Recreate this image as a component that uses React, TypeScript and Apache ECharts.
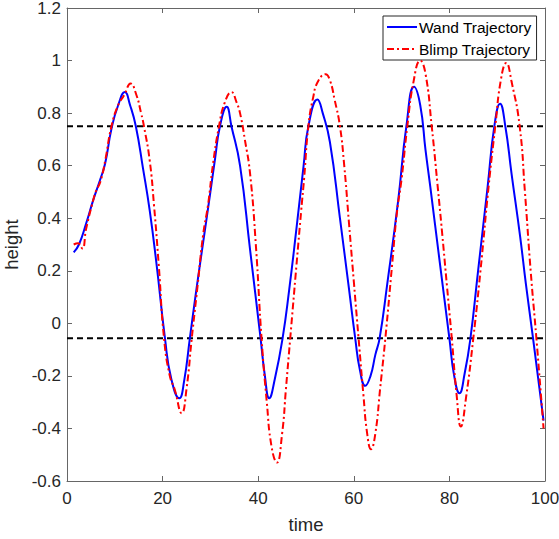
import React, { useEffect, useRef } from "react";
import * as echarts from "echarts";

const wandTime = [1.4, 2.5, 4.0, 5.5, 7.0, 8.0, 9.3, 10.7, 12.1, 13.2, 14.4, 15.9, 17.3, 18.7, 20.5, 21.8, 23.5, 24.5, 25.7, 27.0, 28.5, 30.0, 31.0, 32.0, 33.4, 34.4, 36.2, 38.3, 40.5, 41.4, 42.3, 43.5, 45.1, 46.5, 48.0, 49.5, 50.5, 52.4, 53.5, 55.0, 57.1, 59.0, 60.3, 61.3, 62.4, 63.5, 64.5, 65.4, 67.0, 69.3, 71.0, 72.6, 73.9, 75.0, 76.0, 78.0, 80.0, 81.0, 82.1, 83.2, 84.4, 86.0, 88.0, 89.4, 90.6, 91.7, 93.0, 94.8, 96.0, 97.5, 99.7];
const wandHeight = [0.27, 0.30, 0.38, 0.47, 0.55, 0.61, 0.74, 0.83, 0.88, 0.83, 0.75, 0.59, 0.43, 0.23, -0.057, -0.21, -0.285, -0.22, -0.057, 0.12, 0.31, 0.50, 0.63, 0.75, 0.824, 0.75, 0.60, 0.28, -0.057, -0.2, -0.285, -0.21, -0.057, 0.13, 0.36, 0.6, 0.75, 0.852, 0.8, 0.69, 0.40, 0.13, -0.057, -0.18, -0.238, -0.2, -0.12, -0.057, 0.15, 0.47, 0.75, 0.90, 0.83, 0.66, 0.52, 0.23, -0.057, -0.2, -0.266, -0.19, -0.057, 0.2, 0.52, 0.75, 0.836, 0.75, 0.57, 0.33, 0.15, -0.057, -0.37];

const blimpTime = [1.4, 2.3, 3.2, 4.0, 5.5, 6.0, 7.0, 8.0, 9.3, 10.7, 12.0, 13.3, 14.5, 15.5, 16.1, 17.3, 18.2, 19.2, 20.3, 21.5, 22.5, 24.0, 25.0, 26.1, 27.3, 28.5, 29.5, 30.5, 31.8, 33.0, 34.4, 35.5, 36.2, 37.2, 38.3, 39.5, 40.7, 41.8, 42.8, 43.9, 45.0, 45.8, 46.7, 48.0, 49.0, 49.6, 50.5, 51.5, 52.5, 54.1, 55.0, 56.0, 57.1, 58.0, 59.0, 60.0, 61.0, 62.0, 62.8, 63.6, 64.5, 65.5, 66.6, 68.0, 69.0, 70.0, 71.2, 72.5, 73.9, 75.0, 76.3, 77.5, 78.5, 79.5, 80.5, 81.5, 82.4, 83.5, 85.0, 86.5, 88.2, 89.6, 90.8, 91.9, 93.0, 94.7, 95.8, 97.0, 98.2, 99.7];
const blimpHeight = [0.30, 0.305, 0.285, 0.36, 0.47, 0.50, 0.54, 0.62, 0.75, 0.83, 0.87, 0.913, 0.87, 0.80, 0.75, 0.62, 0.45, 0.22, -0.057, -0.2, -0.25, -0.342, -0.25, -0.057, 0.14, 0.34, 0.45, 0.60, 0.75, 0.84, 0.88, 0.84, 0.80, 0.70, 0.57, 0.30, -0.057, -0.30, -0.47, -0.53, -0.42, -0.25, -0.057, 0.22, 0.43, 0.55, 0.75, 0.86, 0.92, 0.948, 0.925, 0.85, 0.75, 0.60, 0.38, 0.16, -0.057, -0.27, -0.42, -0.479, -0.42, -0.25, -0.057, 0.22, 0.418, 0.55, 0.75, 0.92, 1.0, 0.95, 0.75, 0.53, 0.34, 0.14, -0.057, -0.27, -0.393, -0.28, -0.057, 0.2, 0.52, 0.75, 0.93, 0.991, 0.92, 0.75, 0.5, 0.2, -0.057, -0.40];

const thresholdUpper = 0.75;
const thresholdLower = -0.057;
const timeRange = [0, 100];

const xTicks = { min: 0, max: 100, interval: 20 };
const yTicks = { min: -0.6, max: 1.2, interval: 0.2 };

const FONT = "'Liberation Sans', Arial, Helvetica, sans-serif";
const AXIS_COLOR = "#666666";
const TEXT_COLOR = "#262626";

export default function App() {
  const ref = useRef<HTMLDivElement>(null);
  useEffect(() => {
    if (!ref.current) return;
    const chart = echarts.init(ref.current, undefined, { renderer: "svg" });
    const zip = (xs: number[], ys: number[]) => xs.map((x, i) => [x, ys[i]]);
    const baseX = {
      type: "value" as const,
      min: xTicks.min,
      max: xTicks.max,
      interval: xTicks.interval,
      splitLine: { show: false },
      axisLine: { show: true, onZero: false, lineStyle: { color: AXIS_COLOR, width: 1 } },
      axisTick: { show: true, inside: true, length: 5, lineStyle: { color: AXIS_COLOR } },
    };
    const baseY = {
      type: "value" as const,
      min: yTicks.min,
      max: yTicks.max,
      interval: yTicks.interval,
      splitLine: { show: false },
      axisLine: { show: true, onZero: false, lineStyle: { color: AXIS_COLOR, width: 1 } },
      axisTick: { show: true, inside: true, length: 5, lineStyle: { color: AXIS_COLOR } },
    };
    chart.setOption({
      animation: false,
      backgroundColor: "#ffffff",
      textStyle: { fontFamily: FONT },
      grid: { left: 67, right: 14, top: 8, bottom: 58, containLabel: false, outerBoundsMode: "none" },
      legend: {
        data: ["Wand Trajectory", "Blimp Trajectory"],
        orient: "vertical",
        left: 383,
        top: 16,
        padding: [3, 5, 3, 3],
        itemGap: 6,
        itemWidth: 30,
        itemHeight: 14,
        itemStyle: { opacity: 0 },
        backgroundColor: "#ffffff",
        borderColor: "#262626",
        borderWidth: 1,
        textStyle: { fontSize: 15.5, color: "#000000", fontFamily: FONT, lineHeight: 15, padding: [0, 0, 0, -3] },
      },
      xAxis: [
        {
          ...baseX,
          position: "bottom",
          name: "time",
          nameLocation: "middle",
          nameGap: 34,
          nameTextStyle: { fontSize: 18.5, color: TEXT_COLOR, fontFamily: FONT },
          axisLabel: { fontSize: 17, color: TEXT_COLOR, margin: 9, fontFamily: FONT },
        },
        { ...baseX, position: "top", axisLabel: { show: false } },
      ],
      yAxis: [
        {
          ...baseY,
          position: "left",
          name: "height",
          nameLocation: "middle",
          nameGap: 40,
          nameTextStyle: { fontSize: 18.5, color: TEXT_COLOR, fontFamily: FONT },
          axisLabel: {
            fontSize: 17,
            color: TEXT_COLOR,
            margin: 6,
            fontFamily: FONT,
            formatter: (v: number) => String(Math.round(v * 10) / 10),
          },
        },
        { ...baseY, position: "right", axisLabel: { show: false } },
      ],
      series: [
        {
          name: "upper",
          type: "line",
          data: zip(timeRange, [thresholdUpper, thresholdUpper]),
          symbol: "none",
          silent: true,
          lineStyle: { color: "#000000", width: 2, type: [6, 4] },
          z: 1,
        },
        {
          name: "lower",
          type: "line",
          data: zip(timeRange, [thresholdLower, thresholdLower]),
          symbol: "none",
          silent: true,
          lineStyle: { color: "#000000", width: 2, type: [6, 4] },
          z: 1,
        },
        {
          name: "Wand Trajectory",
          type: "line",
          data: zip(wandTime, wandHeight),
          symbol: "none",
          smooth: 0.5,
          lineStyle: { color: "#0000ff", width: 2 },
          itemStyle: { color: "#0000ff" },
          z: 3,
        },
        {
          name: "Blimp Trajectory",
          type: "line",
          data: zip(blimpTime, blimpHeight),
          symbol: "none",
          smooth: 0.5,
          lineStyle: { color: "#ff0000", width: 2, type: [7, 3, 2, 3] },
          itemStyle: { color: "#ff0000" },
          z: 4,
        },
      ],
    });
    return () => chart.dispose();
  }, []);
  return (
    <div
      ref={ref}
      style={{ position: "fixed", left: 0, top: 0, width: 559, height: 539, background: "#fff" }}
    />
  );
}
